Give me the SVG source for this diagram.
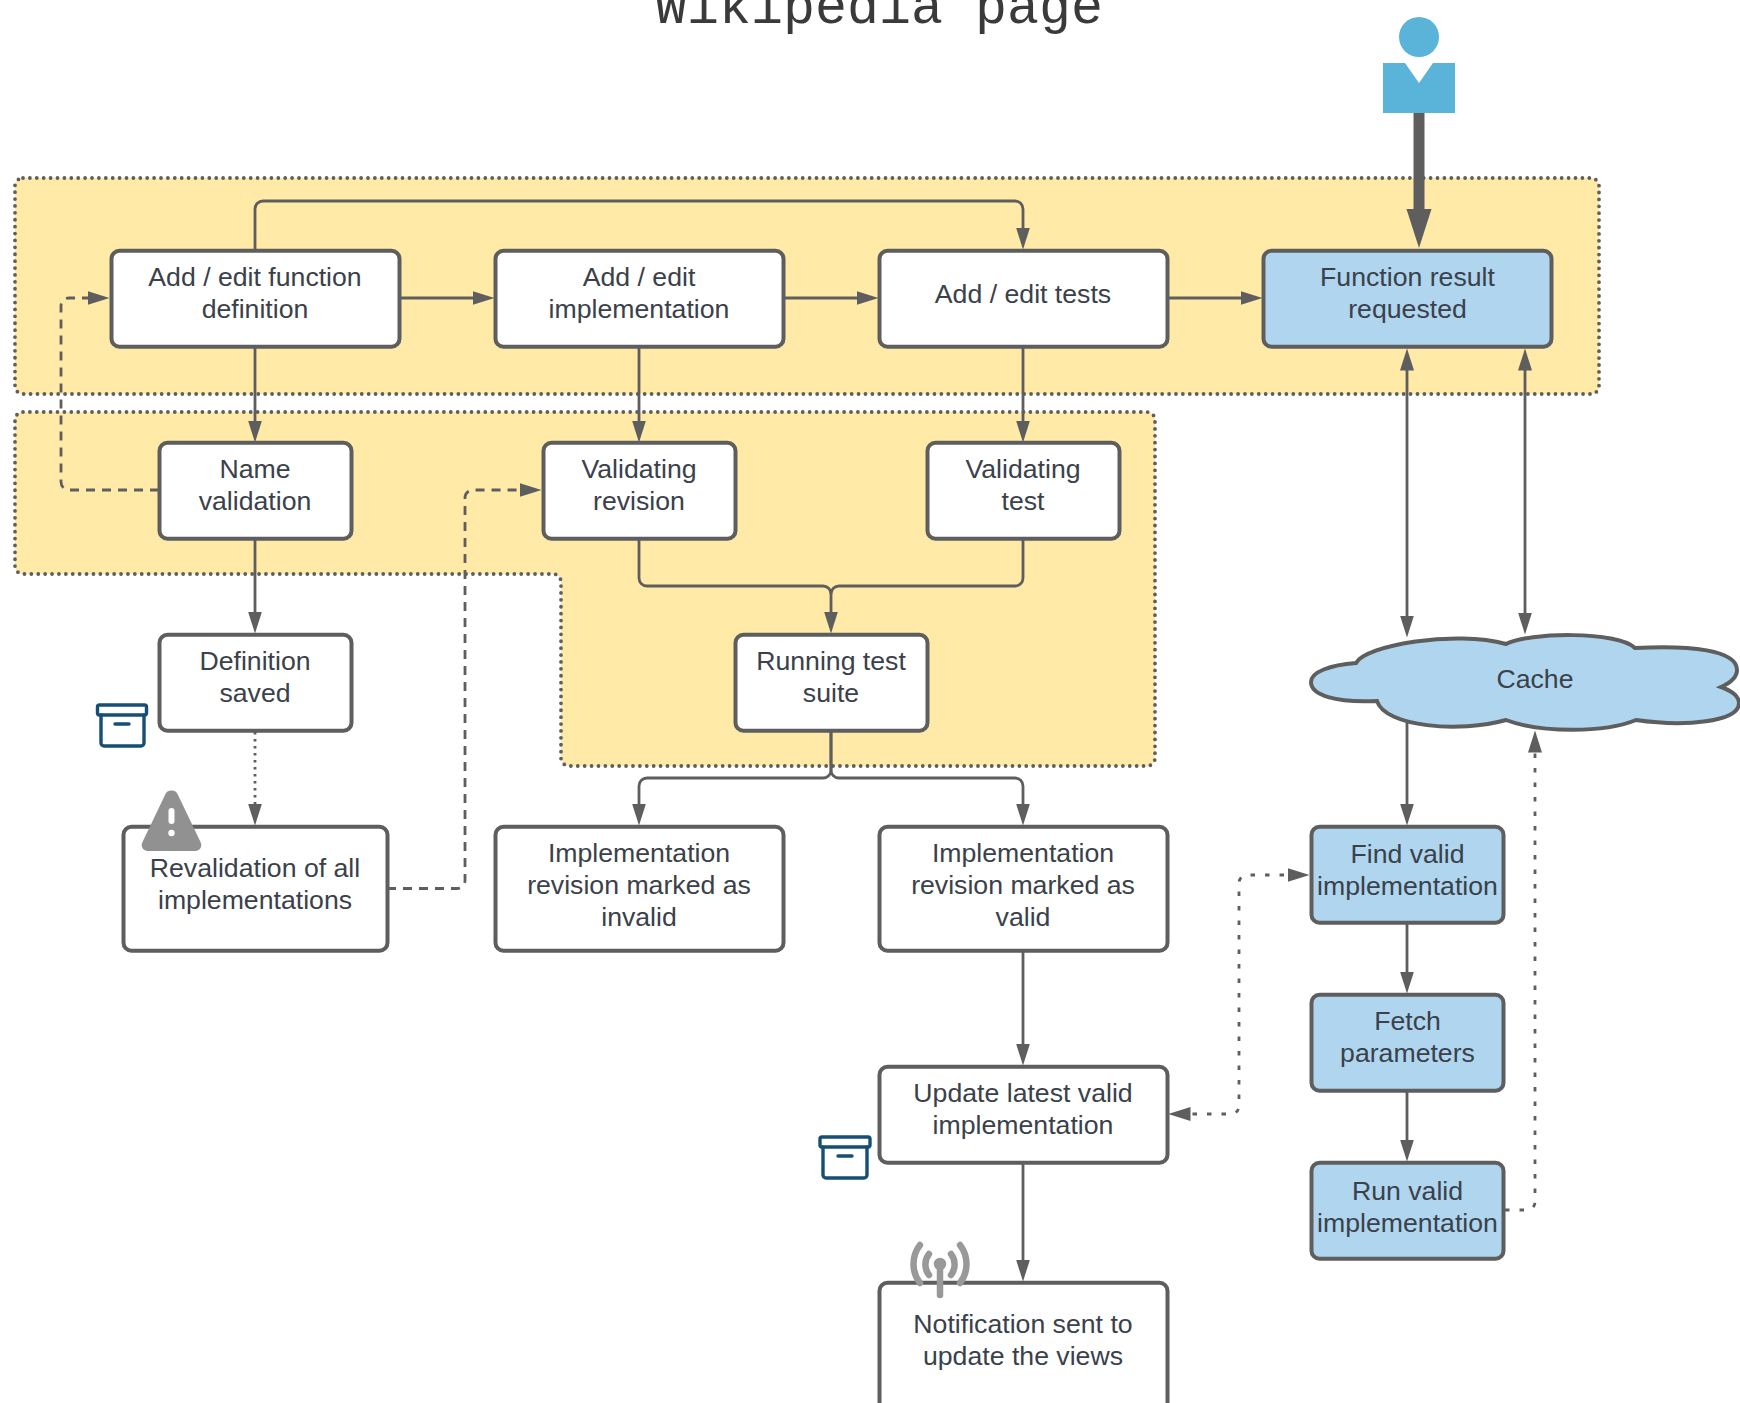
<svg xmlns="http://www.w3.org/2000/svg" width="1740" height="1403" viewBox="0 0 1740 1403">
<style>
text{font-family:"Liberation Sans",Arial,sans-serif;font-size:26.67px;fill:#3a414a;text-anchor:middle}
.title{font-family:"Liberation Mono","Courier New",monospace;font-size:53.33px;fill:#3a3a3a}
.box{fill:#fff;stroke:#5e5e5e;stroke-width:4}
.blue{fill:#b0d5ef}
.area{fill:#ffeaa7;stroke:#5e5e5e;stroke-width:3.8;stroke-dasharray:0 6.9;stroke-linecap:round}
.c{fill:none;stroke:#5e5e5e;stroke-width:2.8}
.a{marker-end:url(#ah)}
.d{stroke-dasharray:9 7}
.s{stroke-dasharray:4.5 10}
.t{stroke-dasharray:2.5 4.5}
.arch{fill:none;stroke:#164f73;stroke-width:3.4;stroke-linejoin:round;stroke-linecap:round}
</style>
<defs>
<marker id="ah" markerUnits="userSpaceOnUse" viewBox="0 0 22 14" refX="12.500" refY="7" markerWidth="22" markerHeight="14" orient="auto-start-reverse"><path d="M0 0L22 7L0 14Z" fill="#5e5e5e"/></marker>
</defs>
<text class="title" x="879" y="23">Wikipedia page</text>
<g id="areas">
<rect id="area1" class="area" x="15" y="178" width="1584" height="216" rx="8"/>
<path id="area2" class="area" d="M23 412H1147a8 8 0 0 1 8 8V758a8 8 0 0 1-8 8H569a8 8 0 0 1-8-8V582a8 8 0 0 0-8-8H23a8 8 0 0 1-8-8V420a8 8 0 0 1 8-8Z"/>
</g>
<g id="connectors">
<path class="c a" d="M255 250V209a8 8 0 0 1 8-8H1015a8 8 0 0 1 8 8V240"/>
<path class="c a" d="M399 298H485"/>
<path class="c a" d="M783 298H869"/>
<path class="c a" d="M1167 298H1253"/>
<path class="c a" d="M255 346V433"/>
<path class="c a" d="M639 346V433"/>
<path class="c a" d="M1023 346V433"/>
<path class="c a" d="M255 538V624"/>
<path class="c a" d="M639 538V578a8 8 0 0 0 8 8H823a8 8 0 0 1 8 8V624"/>
<path class="c" d="M1023 538V578a8 8 0 0 1-8 8H839a8 8 0 0 0-8 8"/>
<path class="c a" d="M831 730V770a8 8 0 0 1-8 8H647a8 8 0 0 0-8 8V816"/>
<path class="c a" d="M831 730V770a8 8 0 0 0 8 8H1015a8 8 0 0 1 8 8V816"/>
<path class="c a" d="M1023 950V1056"/>
<path class="c a" d="M1023 1162V1272"/>
<path class="c a" style="marker-start:url(#ah)" d="M1407 358V628"/>
<path class="c a" style="marker-start:url(#ah)" d="M1525 358V625"/>
<path class="c a" d="M1407 722V816"/>
<path class="c a" d="M1407 922V984"/>
<path class="c a" d="M1407 1090V1152"/>
<path class="c d a" d="M159 490H69a8 8 0 0 1-8-8V306a8 8 0 0 1 8-8H100"/>
<path class="c d a" d="M387 888.500H457a8 8 0 0 0 8-8V498a8 8 0 0 1 8-8H532"/>
<path class="c t a" d="M255 732V816"/>
<path class="c s" style="marker-end:url(#ah);marker-start:url(#ah)" d="M1178 1114H1231a8 8 0 0 0 8-8V883a8 8 0 0 1 8-8H1300"/>
<path class="c s a" d="M1505 1210H1527a8 8 0 0 0 8-8V740"/>
<path d="M1419 113V210" fill="none" stroke="#5e5e5e" stroke-width="11"/>
<path d="M1406.500 209H1431.500L1419 248Z" fill="#5e5e5e"/>
</g>
<g id="user" fill="#5ab4da">
<circle cx="1419" cy="37" r="20"/>
<path d="M1383 63H1405L1419 83L1433 63H1455V113H1383Z"/>
</g>
<g id="n1"><rect class="box" x="111.500" y="250.700" width="288" height="96" rx="8"/><text x="255" y="286">Add / edit function</text><text x="255" y="318">definition</text></g>
<g id="n2"><rect class="box" x="495.500" y="250.700" width="288" height="96" rx="8"/><text x="639" y="286">Add / edit</text><text x="639" y="318">implementation</text></g>
<g id="n3"><rect class="box" x="879.500" y="250.700" width="288" height="96" rx="8"/><text x="1023" y="303">Add / edit tests</text></g>
<g id="n4"><rect class="box blue" x="1263.500" y="250.700" width="288" height="96" rx="8"/><text x="1407.500" y="286">Function result</text><text x="1407.500" y="318">requested</text></g>
<g id="n5"><rect class="box" x="159.500" y="442.700" width="192" height="96" rx="8"/><text x="255" y="478">Name</text><text x="255" y="510">validation</text></g>
<g id="n6"><rect class="box" x="543.500" y="442.700" width="192" height="96" rx="8"/><text x="639" y="478">Validating</text><text x="639" y="510">revision</text></g>
<g id="n7"><rect class="box" x="927.500" y="442.700" width="192" height="96" rx="8"/><text x="1023" y="478">Validating</text><text x="1023" y="510">test</text></g>
<g id="n8"><rect class="box" x="159.500" y="634.700" width="192" height="96" rx="8"/><text x="255" y="670">Definition</text><text x="255" y="702">saved</text></g>
<g id="n9"><rect class="box" x="735.500" y="634.700" width="192" height="96" rx="8"/><text x="831" y="670">Running test</text><text x="831" y="702">suite</text></g>
<g id="n10"><rect class="box" x="123.500" y="826.700" width="264" height="124" rx="8"/><text x="255" y="877">Revalidation of all</text><text x="255" y="909">implementations</text></g>
<g id="n11"><rect class="box" x="495.500" y="826.700" width="288" height="124" rx="8"/><text x="639" y="862">Implementation</text><text x="639" y="894">revision marked as</text><text x="639" y="926">invalid</text></g>
<g id="n12"><rect class="box" x="879.500" y="826.700" width="288" height="124" rx="8"/><text x="1023" y="862">Implementation</text><text x="1023" y="894">revision marked as</text><text x="1023" y="926">valid</text></g>
<g id="n13"><rect class="box" x="879.500" y="1066.700" width="288" height="96" rx="8"/><text x="1023" y="1102">Update latest valid</text><text x="1023" y="1134">implementation</text></g>
<g id="n14"><rect class="box" x="879.500" y="1282.700" width="288" height="140" rx="8"/><text x="1023" y="1333">Notification sent to</text><text x="1023" y="1365">update the views</text></g>
<g id="n15"><rect class="box blue" x="1311.500" y="826.700" width="192" height="96" rx="8"/><text x="1407.500" y="863">Find valid</text><text x="1407.500" y="895">implementation</text></g>
<g id="n16"><rect class="box blue" x="1311.500" y="994.700" width="192" height="96" rx="8"/><text x="1407.500" y="1030">Fetch</text><text x="1407.500" y="1062">parameters</text></g>
<g id="n17"><rect class="box blue" x="1311.500" y="1162.700" width="192" height="96" rx="8"/><text x="1407.500" y="1200">Run valid</text><text x="1407.500" y="1232">implementation</text></g>
<g id="cache"><path class="box blue" d="M1356 663C1366 645 1455 630 1506 644C1528 632 1618 631 1635 648C1690 645 1737 650 1737 670C1737 677 1730 683 1721 687C1732 691 1739 696 1739 703C1739 722 1685 727 1636 720C1605 733 1540 733 1506 720C1460 733 1385 727 1377 701C1335 703 1311 695 1311 682C1311 672 1330 665 1356 663Z"/><text x="1535" y="688">Cache</text></g>
<g id="icon-archive1" class="arch"><rect x="97.500" y="705" width="49" height="10" rx="2"/><path d="M101 715V743a3 3 0 0 0 3 3H141a3 3 0 0 0 3-3V715M115 724H129"/></g>
<g id="icon-archive2" class="arch"><rect x="820" y="1137" width="50" height="10" rx="2"/><path d="M823 1147V1175a3 3 0 0 0 3 3H864a3 3 0 0 0 3-3V1147M838 1156H852"/></g>
<g id="icon-warning"><path d="M165 795a7 7 0 0 1 13 0L200.500 842a6 6 0 0 1-5 9H147.500a6 6 0 0 1-5-9Z" fill="#919191"/><rect x="168.500" y="808" width="6" height="16" rx="3" fill="#fff"/><circle cx="171.500" cy="833" r="3.200" fill="#fff"/></g>
<g id="icon-antenna" fill="none" stroke="#999" stroke-width="6.500" stroke-linecap="round"><path d="M940 1264V1295"/><circle cx="940" cy="1264" r="4" fill="#999" stroke-width="4.500"/><path d="M929 1254A17 17 0 0 0 929 1275M951 1254A17 17 0 0 1 951 1275"/><path d="M920 1245A31 31 0 0 0 920 1283M960 1245A31 31 0 0 1 960 1283"/></g>
</svg>
